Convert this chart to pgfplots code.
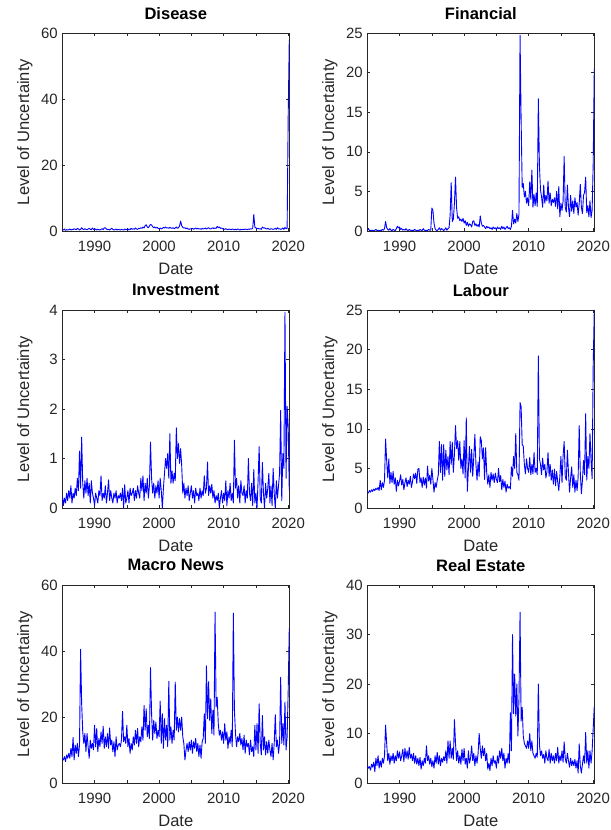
\documentclass[border=0pt]{standalone}
\usepackage{pgfplots}
\pgfplotsset{compat=1.18}
\usepackage{pgfplotstable}
\usepackage{fontspec}
\setmainfont{Liberation Sans}

% bi-monthly values, first row = Jan 1985, step 1/6 year
\pgfplotstableread[row sep=\\]{
y\\
0.5\\ 0.3\\ 0.6\\ 0.2\\ 0.4\\ 0.3\\
0.4\\ 0.6\\ 0.3\\ 0.5\\ 0.4\\ 0.7\\
0.5\\ 0.4\\ 0.8\\ 0.6\\ 0.3\\ 0.5\\
1.0\\ 0.6\\ 0.4\\ 0.7\\ 0.5\\ 0.4\\
0.6\\ 0.8\\ 0.5\\ 0.4\\ 0.9\\ 0.5\\
0.4\\ 0.6\\ 0.3\\ 0.5\\ 0.4\\ 0.3\\
0.5\\ 0.7\\ 0.4\\ 0.9\\ 1.0\\ 0.6\\
0.4\\ 0.5\\ 0.3\\ 0.6\\ 0.8\\ 0.5\\
0.3\\ 0.4\\ 0.6\\ 0.3\\ 0.5\\ 0.4\\
0.3\\ 0.5\\ 0.4\\ 0.3\\ 0.6\\ 0.4\\
0.5\\ 0.3\\ 0.6\\ 0.4\\ 0.8\\ 0.5\\
0.7\\ 0.5\\ 0.9\\ 0.6\\ 0.5\\ 0.8\\
0.7\\ 1.0\\ 0.8\\ 1.2\\ 0.9\\ 1.6\\
1.9\\ 1.2\\ 1.0\\ 1.5\\ 2.0\\ 1.8\\
1.3\\ 1.0\\ 1.2\\ 0.9\\ 1.1\\ 0.8\\
0.7\\ 0.9\\ 0.6\\ 0.8\\ 1.1\\ 0.9\\
1.2\\ 0.9\\ 1.0\\ 0.8\\ 1.1\\ 0.9\\
0.8\\ 1.0\\ 0.7\\ 0.9\\ 1.2\\ 0.8\\
1.0\\ 1.5\\ 3.0\\ 1.6\\ 1.1\\ 0.9\\
1.0\\ 0.7\\ 0.9\\ 0.6\\ 0.5\\ 0.7\\
0.6\\ 0.8\\ 0.5\\ 0.7\\ 0.9\\ 0.6\\
0.8\\ 0.6\\ 0.7\\ 0.5\\ 0.8\\ 0.6\\
0.7\\ 0.9\\ 0.6\\ 0.8\\ 1.0\\ 0.7\\
0.6\\ 0.8\\ 1.0\\ 0.7\\ 0.9\\ 0.8\\
1.4\\ 1.0\\ 1.2\\ 0.8\\ 0.9\\ 0.7\\
0.6\\ 0.5\\ 0.7\\ 0.5\\ 0.4\\ 0.6\\
0.5\\ 0.4\\ 0.6\\ 0.5\\ 0.4\\ 0.5\\
0.4\\ 0.6\\ 0.5\\ 0.3\\ 0.5\\ 0.4\\
0.5\\ 0.4\\ 0.6\\ 0.5\\ 0.4\\ 0.6\\
0.5\\ 0.7\\ 0.6\\ 0.8\\ 5.0\\ 1.2\\
0.9\\ 0.7\\ 0.8\\ 0.6\\ 0.7\\ 0.5\\
1.2\\ 0.9\\ 1.0\\ 0.7\\ 0.6\\ 0.8\\
0.6\\ 0.5\\ 0.7\\ 0.6\\ 0.5\\ 0.6\\
0.8\\ 0.5\\ 1.0\\ 0.6\\ 0.7\\ 0.5\\
0.6\\ 0.9\\ 0.5\\ 1.1\\ 0.7\\ 0.8\\
35.0\\ 58.0\\
}\dis

\pgfplotstableread[row sep=\\]{
y\\
0.1\\ 0.3\\ 0.05\\ 0.1\\ 0.05\\ 0.1\\
0.05\\ 0.1\\ 0.2\\ 0.05\\ 0.1\\ 0.05\\
0.1\\ 0.05\\ 0.2\\ 0.1\\ 0.3\\ 1.2\\
0.4\\ 0.2\\ 0.1\\ 0.3\\ 0.1\\ 0.05\\
0.2\\ 0.1\\ 0.05\\ 0.3\\ 0.6\\ 0.4\\
0.5\\ 0.2\\ 0.3\\ 0.1\\ 0.2\\ 0.1\\
0.3\\ 0.1\\ 0.05\\ 0.2\\ 0.1\\ 0.05\\
0.1\\ 0.05\\ 0.2\\ 0.1\\ 0.05\\ 0.1\\
0.05\\ 0.2\\ 0.1\\ 0.05\\ 0.3\\ 0.1\\
0.05\\ 0.1\\ 0.05\\ 0.2\\ 0.1\\ 0.1\\
2.9\\ 2.6\\ 1.0\\ 0.3\\ 0.1\\ 0.05\\
0.2\\ 0.4\\ 0.1\\ 0.3\\ 0.2\\ 0.05\\
0.2\\ 0.4\\ 0.1\\ 0.3\\ 0.4\\ 2.0\\
6.1\\ 1.2\\ 1.5\\ 3.5\\ 6.8\\ 2.9\\
1.6\\ 1.8\\ 1.3\\ 1.5\\ 1.2\\ 1.6\\
1.0\\ 1.3\\ 0.7\\ 1.1\\ 0.6\\ 0.9\\
0.8\\ 0.5\\ 1.2\\ 1.3\\ 0.7\\ 0.9\\
0.6\\ 0.8\\ 0.5\\ 1.9\\ 1.0\\ 0.6\\
0.7\\ 0.5\\ 0.3\\ 0.6\\ 0.4\\ 0.5\\
0.3\\ 0.4\\ 0.2\\ 0.5\\ 0.3\\ 0.4\\
0.2\\ 0.5\\ 0.3\\ 0.4\\ 0.2\\ 0.6\\
0.3\\ 0.5\\ 0.2\\ 0.4\\ 0.6\\ 0.3\\
0.4\\ 0.2\\ 0.6\\ 2.6\\ 0.9\\ 1.5\\
1.0\\ 2.2\\ 1.2\\ 2.1\\ 24.7\\ 14.0\\
5.5\\ 6.0\\ 4.3\\ 5.0\\ 3.5\\ 4.2\\
3.2\\ 6.2\\ 4.0\\ 7.7\\ 3.0\\ 4.6\\
3.2\\ 4.8\\ 3.1\\ 16.7\\ 8.3\\ 5.2\\
4.3\\ 3.0\\ 5.8\\ 3.5\\ 4.5\\ 3.8\\
6.3\\ 3.5\\ 4.8\\ 3.2\\ 4.0\\ 3.6\\
4.2\\ 3.1\\ 5.0\\ 2.8\\ 5.6\\ 1.8\\
3.5\\ 2.6\\ 3.8\\ 9.4\\ 3.0\\ 2.4\\
5.8\\ 3.0\\ 1.8\\ 4.5\\ 2.5\\ 3.8\\
2.2\\ 4.2\\ 3.0\\ 3.6\\ 2.0\\ 3.5\\
5.9\\ 3.0\\ 2.2\\ 4.5\\ 4.9\\ 6.8\\
2.3\\ 3.2\\ 1.8\\ 3.8\\ 1.7\\ 2.6\\
8.5\\ 20.5\\
}\fin

\pgfplotstableread[row sep=\\]{
y\\
0.25\\ 0.05\\ 0.2\\ 0.1\\ 0.3\\ 0.15\\
0.35\\ 0.2\\ 0.45\\ 0.1\\ 0.3\\ 0.2\\
0.4\\ 0.25\\ 0.6\\ 0.35\\ 1.15\\ 0.4\\
1.43\\ 0.5\\ 0.2\\ 0.55\\ 0.3\\ 0.6\\
0.25\\ 0.5\\ 0.1\\ 0.55\\ 0.3\\ 0.2\\
0.05\\ 0.3\\ 0.2\\ 0.1\\ 0.35\\ 0.25\\
0.65\\ 0.15\\ 0.3\\ 0.2\\ 0.45\\ 0.1\\
0.3\\ 0.57\\ 0.15\\ 0.35\\ 0.2\\ 0.1\\
0.3\\ 0.2\\ 0.35\\ 0.1\\ 0.25\\ 0.2\\
0.3\\ 0.15\\ 0.4\\ 0.0\\ 0.47\\ 0.1\\
0.2\\ 0.35\\ 0.1\\ 0.4\\ 0.25\\ 0.3\\
0.4\\ 0.15\\ 0.35\\ 0.2\\ 0.45\\ 0.3\\
0.2\\ 0.6\\ 0.35\\ 0.65\\ 0.15\\ 0.5\\
0.3\\ 0.6\\ 0.2\\ 0.45\\ 1.33\\ 0.6\\
0.3\\ 0.5\\ 0.2\\ 0.45\\ 0.3\\ 0.55\\
0.2\\ 0.6\\ 0.35\\ 0.0\\ 0.4\\ 0.7\\
1.0\\ 0.8\\ 1.1\\ 0.6\\ 1.5\\ 0.5\\
0.75\\ 0.5\\ 0.7\\ 0.55\\ 1.62\\ 1.0\\
1.3\\ 0.9\\ 1.2\\ 0.85\\ 0.3\\ 0.5\\
0.2\\ 0.4\\ 0.25\\ 0.45\\ 0.15\\ 0.3\\
0.45\\ 0.2\\ 0.35\\ 0.1\\ 0.4\\ 0.25\\
0.3\\ 0.15\\ 0.4\\ 0.2\\ 0.35\\ 0.25\\
0.65\\ 0.3\\ 0.4\\ 0.93\\ 0.25\\ 0.45\\
0.3\\ 0.48\\ 0.2\\ 0.35\\ 0.1\\ 0.25\\
0.15\\ 0.3\\ 0.0\\ 0.2\\ 0.35\\ 0.1\\
0.3\\ 0.15\\ 0.55\\ 0.05\\ 0.35\\ 0.2\\
0.5\\ 0.15\\ 0.3\\ 0.1\\ 1.37\\ 0.4\\
0.6\\ 0.2\\ 0.45\\ 0.1\\ 0.55\\ 0.3\\
0.25\\ 0.45\\ 0.1\\ 0.35\\ 0.2\\ 1.0\\
0.3\\ 0.15\\ 0.5\\ 0.05\\ 0.78\\ 0.1\\
0.3\\ 0.0\\ 0.55\\ 1.24\\ 0.2\\ 0.1\\
0.92\\ 0.3\\ 0.0\\ 0.5\\ 0.2\\ 0.4\\
0.7\\ 0.1\\ 0.45\\ 0.05\\ 0.8\\ 0.3\\
0.0\\ 0.55\\ 0.2\\ 0.45\\ 0.7\\ 1.97\\
0.15\\ 1.1\\ 0.8\\ 3.95\\ 0.6\\ 2.05\\
1.65\\ 0.35\\
}\inv

\pgfplotstableread[row sep=\\]{
y\\
2.0\\ 1.9\\ 2.2\\ 2.0\\ 2.3\\ 2.1\\
2.4\\ 2.2\\ 2.5\\ 2.3\\ 2.6\\ 2.2\\
3.5\\ 2.3\\ 3.2\\ 2.6\\ 3.5\\ 8.7\\
6.0\\ 3.8\\ 6.2\\ 3.1\\ 4.5\\ 3.2\\
4.6\\ 3.0\\ 3.8\\ 2.1\\ 3.5\\ 2.8\\
3.4\\ 4.2\\ 2.9\\ 3.6\\ 2.3\\ 3.2\\
3.8\\ 2.7\\ 3.5\\ 3.0\\ 4.0\\ 2.6\\
3.3\\ 4.3\\ 3.7\\ 4.4\\ 3.1\\ 4.9\\
5.0\\ 3.2\\ 3.8\\ 2.6\\ 3.9\\ 2.9\\
3.8\\ 2.5\\ 5.3\\ 3.4\\ 4.1\\ 3.0\\
5.0\\ 3.6\\ 2.0\\ 3.2\\ 2.6\\ 3.5\\
4.2\\ 8.4\\ 4.5\\ 8.0\\ 3.5\\ 8.0\\
4.0\\ 7.3\\ 4.8\\ 6.5\\ 4.2\\ 8.4\\
5.5\\ 8.3\\ 4.5\\ 6.8\\ 10.4\\ 7.5\\
8.5\\ 6.0\\ 8.4\\ 5.0\\ 6.2\\ 4.3\\
8.5\\ 3.8\\ 11.4\\ 2.1\\ 5.0\\ 7.8\\
4.5\\ 7.4\\ 4.0\\ 6.5\\ 9.3\\ 5.5\\
3.5\\ 5.8\\ 4.0\\ 9.0\\ 8.5\\ 6.2\\
7.6\\ 3.6\\ 7.6\\ 4.5\\ 3.0\\ 4.2\\
2.6\\ 4.5\\ 3.5\\ 4.3\\ 3.2\\ 4.4\\
3.6\\ 3.2\\ 5.0\\ 3.3\\ 4.1\\ 2.3\\
3.6\\ 2.6\\ 3.4\\ 2.0\\ 3.0\\ 2.5\\
2.7\\ 2.4\\ 5.2\\ 4.0\\ 6.5\\ 5.0\\
9.4\\ 4.5\\ 4.2\\ 3.5\\ 13.3\\ 12.8\\
8.0\\ 7.8\\ 5.5\\ 4.3\\ 6.2\\ 5.0\\
4.5\\ 6.4\\ 4.2\\ 5.5\\ 4.3\\ 7.0\\
4.5\\ 5.0\\ 4.2\\ 19.2\\ 6.2\\ 5.5\\
4.2\\ 6.3\\ 4.8\\ 5.5\\ 3.8\\ 4.6\\
7.0\\ 4.0\\ 5.5\\ 3.5\\ 4.8\\ 3.0\\
4.9\\ 2.8\\ 4.6\\ 3.3\\ 2.2\\ 4.0\\
6.5\\ 3.2\\ 6.6\\ 8.4\\ 4.0\\ 3.5\\
7.3\\ 4.5\\ 2.0\\ 3.8\\ 5.2\\ 2.6\\
4.2\\ 2.0\\ 3.5\\ 2.2\\ 3.9\\ 10.4\\
4.5\\ 1.8\\ 3.5\\ 6.0\\ 4.2\\ 11.9\\
3.5\\ 6.5\\ 5.0\\ 9.4\\ 6.0\\ 3.7\\
18.0\\ 25.0\\
}\lab

\pgfplotstableread[row sep=\\]{
y\\
7.5\\ 7.0\\ 8.0\\ 6.5\\ 8.5\\ 7.5\\
9.0\\ 7.5\\ 10.5\\ 8.0\\ 13.8\\ 7.0\\
11.5\\ 9.0\\ 12.0\\ 8.0\\ 11.5\\ 40.5\\
24.0\\ 15.5\\ 12.0\\ 15.0\\ 9.5\\ 15.0\\
11.0\\ 7.5\\ 13.0\\ 10.5\\ 12.0\\ 10.0\\
17.5\\ 11.0\\ 16.5\\ 9.5\\ 13.5\\ 11.0\\
15.5\\ 12.0\\ 17.2\\ 10.5\\ 14.0\\ 11.0\\
15.0\\ 10.5\\ 16.7\\ 11.5\\ 13.0\\ 9.5\\
12.5\\ 8.0\\ 14.0\\ 10.0\\ 11.5\\ 12.0\\
11.0\\ 13.0\\ 21.7\\ 12.5\\ 14.0\\ 12.0\\
17.5\\ 11.0\\ 13.5\\ 9.0\\ 12.0\\ 10.0\\
14.0\\ 11.5\\ 16.0\\ 12.0\\ 16.5\\ 11.0\\
14.0\\ 12.5\\ 17.0\\ 13.0\\ 23.5\\ 16.0\\
22.5\\ 14.0\\ 17.5\\ 13.5\\ 35.0\\ 21.0\\
13.0\\ 19.0\\ 15.0\\ 18.5\\ 13.5\\ 16.0\\
14.0\\ 24.8\\ 12.0\\ 21.0\\ 10.5\\ 19.5\\
13.0\\ 17.5\\ 11.0\\ 30.8\\ 13.0\\ 17.0\\
12.0\\ 16.0\\ 13.0\\ 30.6\\ 16.0\\ 20.0\\
15.5\\ 19.5\\ 16.0\\ 20.0\\ 14.0\\ 12.0\\
7.0\\ 10.0\\ 12.0\\ 9.5\\ 12.5\\ 10.0\\
13.0\\ 9.0\\ 12.5\\ 10.5\\ 13.5\\ 9.5\\
12.0\\ 8.0\\ 11.5\\ 7.5\\ 12.5\\ 13.5\\
21.0\\ 12.0\\ 35.5\\ 19.5\\ 30.7\\ 19.0\\
25.5\\ 15.0\\ 22.0\\ 14.5\\ 51.8\\ 23.0\\
26.0\\ 18.0\\ 14.5\\ 16.0\\ 13.0\\ 15.5\\
12.0\\ 18.0\\ 13.0\\ 15.5\\ 10.5\\ 14.0\\
12.0\\ 16.0\\ 11.0\\ 51.5\\ 22.0\\ 15.0\\
11.0\\ 14.0\\ 12.5\\ 15.0\\ 11.5\\ 13.5\\
10.0\\ 14.5\\ 9.0\\ 13.0\\ 11.0\\ 12.0\\
8.5\\ 13.0\\ 9.5\\ 11.0\\ 8.0\\ 17.5\\
10.0\\ 18.0\\ 9.0\\ 24.0\\ 12.0\\ 8.5\\
20.5\\ 10.0\\ 14.0\\ 8.5\\ 12.5\\ 9.0\\
13.0\\ 10.0\\ 8.0\\ 12.0\\ 7.0\\ 12.0\\
20.7\\ 11.0\\ 13.0\\ 9.0\\ 12.0\\ 32.0\\
12.0\\ 18.0\\ 11.5\\ 24.5\\ 10.0\\ 14.0\\
28.0\\ 47.0\\
}\mac

\pgfplotstableread[row sep=\\]{
y\\
3.5\\ 3.0\\ 3.3\\ 2.6\\ 3.8\\ 3.2\\
4.2\\ 2.3\\ 5.0\\ 3.5\\ 5.5\\ 3.0\\
4.5\\ 3.2\\ 5.0\\ 4.0\\ 5.5\\ 11.7\\
8.0\\ 4.5\\ 6.0\\ 3.8\\ 5.5\\ 4.5\\
6.0\\ 4.0\\ 5.5\\ 4.5\\ 6.5\\ 5.0\\
6.3\\ 4.5\\ 5.5\\ 6.8\\ 4.3\\ 7.0\\
5.0\\ 6.5\\ 4.8\\ 7.2\\ 5.0\\ 5.8\\
4.5\\ 6.0\\ 4.0\\ 5.5\\ 3.8\\ 5.0\\
3.5\\ 5.2\\ 2.8\\ 4.5\\ 3.5\\ 5.0\\
4.0\\ 7.5\\ 4.5\\ 5.5\\ 3.8\\ 5.0\\
3.3\\ 4.5\\ 3.0\\ 5.5\\ 4.0\\ 6.2\\
3.8\\ 5.5\\ 3.5\\ 5.0\\ 4.2\\ 5.3\\
4.5\\ 6.5\\ 4.0\\ 8.5\\ 5.0\\ 8.5\\
5.0\\ 7.0\\ 4.8\\ 12.8\\ 8.0\\ 4.5\\
6.5\\ 4.0\\ 5.5\\ 3.8\\ 6.8\\ 4.5\\
7.0\\ 3.8\\ 5.0\\ 3.0\\ 6.5\\ 4.0\\
5.0\\ 7.5\\ 4.5\\ 6.0\\ 3.5\\ 5.5\\
4.0\\ 6.0\\ 10.0\\ 7.0\\ 5.0\\ 7.5\\
5.5\\ 7.0\\ 4.5\\ 6.0\\ 2.8\\ 4.0\\
2.5\\ 5.0\\ 3.5\\ 5.5\\ 4.0\\ 4.5\\
3.0\\ 5.5\\ 4.0\\ 6.5\\ 5.0\\ 7.0\\
4.5\\ 6.0\\ 3.0\\ 5.0\\ 4.0\\ 6.0\\
4.0\\ 14.2\\ 6.5\\ 30.0\\ 14.0\\ 22.0\\
13.5\\ 20.0\\ 9.5\\ 17.0\\ 34.5\\ 12.5\\
15.3\\ 9.5\\ 8.0\\ 7.5\\ 7.0\\ 8.5\\
7.0\\ 10.0\\ 6.5\\ 8.5\\ 6.0\\ 5.5\\
5.0\\ 6.0\\ 5.2\\ 20.0\\ 7.8\\ 5.5\\
6.5\\ 5.0\\ 5.8\\ 4.0\\ 6.5\\ 5.0\\
4.5\\ 6.8\\ 4.0\\ 6.0\\ 4.5\\ 5.5\\
4.0\\ 6.0\\ 4.5\\ 7.2\\ 4.0\\ 5.5\\
4.5\\ 6.5\\ 4.2\\ 8.3\\ 5.0\\ 4.0\\
6.0\\ 4.5\\ 3.2\\ 5.0\\ 3.5\\ 4.5\\
3.5\\ 4.8\\ 3.0\\ 4.5\\ 2.0\\ 7.9\\
3.5\\ 2.0\\ 3.8\\ 5.5\\ 4.0\\ 10.2\\
4.0\\ 6.5\\ 3.0\\ 6.5\\ 4.0\\ 6.5\\
11.0\\ 15.5\\
}\rea

\definecolor{axgray}{gray}{0.15}
\pgfplotsset{
  panel/.style={
    scale only axis, width=227bp, height=198bp, anchor=south west,
    xmin=1985, xmax=2020.17, ymin=0,
    xtick={1990,2000,2010,2020}, xticklabels={1990,2000,2010,2020},
    minor xtick={1995,2005,2015},
    tick align=inside, xtick pos=both, ytick pos=both,
    major tick length=3bp, minor tick length=3bp,
    axis line style={draw=axgray, line width=0.5bp},
    every tick/.style={draw=axgray, line width=0.5bp},
    every minor tick/.style={draw=axgray, line width=0.5bp},
    ticklabel style={font=\fontsize{15}{18}\selectfont, text=axgray},
    /pgf/number format/assume math mode=true,
    scaled y ticks=false,
    xlabel={Date}, ylabel={Level of Uncertainty},
    label style={font=\fontsize{16.6}{20}\selectfont, text=axgray},
    xlabel style={at={(axis description cs:0.5,-0.19)}, anchor=center},
    ylabel style={at={(axis description cs:-0.165,0.5)}, anchor=center},
    title style={font=\bfseries\fontsize{16.6}{20}\selectfont, at={(axis description cs:0.5,1.07)}, anchor=center},
    xticklabel style={yshift=-7bp},
    yticklabel style={xshift=-1bp},
  },
  ser/.style={color=blue, line width=0.9bp, line join=round, no markers},
}

\begin{document}
\begin{tikzpicture}
\useasboundingbox (0,0) rectangle (611bp,830bp);
\begin{axis}[panel, at={(62.3bp,599bp)}, title={Disease}, ymax=60, ytick={0,20,40,60}]
\addplot[ser] table[x expr=1985+\coordindex/6, y=y] {\dis};
\end{axis}
\begin{axis}[panel, at={(367.3bp,599bp)}, title={Financial}, ymax=25, ytick={0,5,...,25}]
\addplot[ser] table[x expr=1985+\coordindex/6, y=y] {\fin};
\end{axis}
\begin{axis}[panel, at={(62.3bp,322bp)}, title={Investment}, ymax=4, ytick={0,1,...,4}]
\addplot[ser] table[x expr=1985+\coordindex/6, y=y] {\inv};
\end{axis}
\begin{axis}[panel, at={(367.3bp,322bp)}, title={Labour}, ymax=25, ytick={0,5,...,25}]
\addplot[ser] table[x expr=1985+\coordindex/6, y=y] {\lab};
\end{axis}
\begin{axis}[panel, at={(62.3bp,47bp)}, title={Macro News}, ymax=60, ytick={0,20,40,60}]
\addplot[ser] table[x expr=1985+\coordindex/6, y=y] {\mac};
\end{axis}
\begin{axis}[panel, at={(367.3bp,47bp)}, title={Real Estate}, ymax=40, ytick={0,10,...,40}]
\addplot[ser] table[x expr=1985+\coordindex/6, y=y] {\rea};
\end{axis}
\end{tikzpicture}
\end{document}
